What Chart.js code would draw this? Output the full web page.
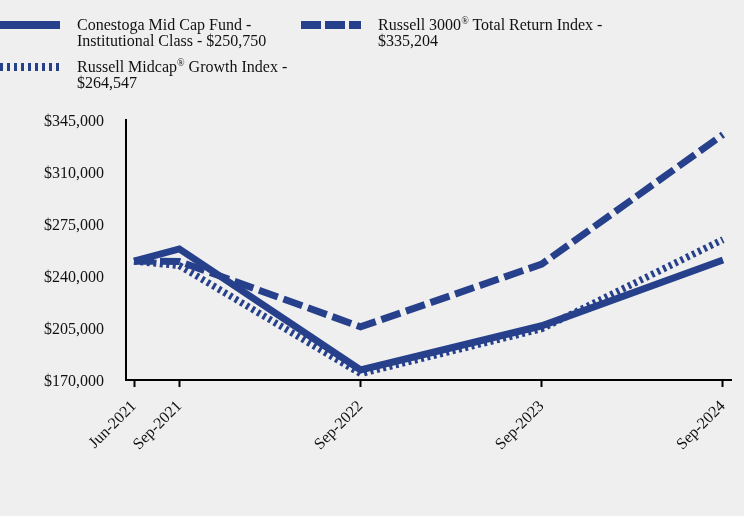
<!DOCTYPE html>
<html>
<head>
<meta charset="utf-8">
<script src="https://cdn.jsdelivr.net/npm/chart.js@4"></script>
<style>
  html, body { margin: 0; padding: 0; background: #efefef; }
  #wrap { position: relative; width: 744px; height: 516px; font-family: "Liberation Serif", "Times New Roman", serif; }
  #legend { position: absolute; left: 0; top: 0; width: 744px; height: 110px; }
  .item { position: absolute; font-size: 16px; line-height: 16px; color: #111; }
  .item svg { position: absolute; left: 0; }
  .item span { position: absolute; white-space: nowrap; }
  sup { font-size: 10px; line-height: 0; }
</style>
</head>
<body>
<div id="wrap">
  <canvas id="myChart" width="744" height="516"></canvas>
  <div id="legend"></div>
</div>
<script>
// months since Jun-2021
const months = [0, 3, 15, 27, 39];
const tickLabels = ["Jun-2021", "Sep-2021", "Sep-2022", "Sep-2023", "Sep-2024"];

const fundValues = [250000, 258200, 176800, 206500, 250750];
const russell3000Values = [250000, 249800, 205800, 248000, 335204];
const midcapGrowthValues = [250000, 247000, 174300, 204500, 264547];

const seriesNames = [
  "Conestoga Mid Cap Fund -<br>Institutional Class - $250,750",
  "Russell 3000<sup>®</sup> Total Return Index -<br>$335,204",
  "Russell Midcap<sup>®</sup> Growth Index -<br>$264,547"
];

const navy = "#26408b";

function toPoints(vals) {
  return vals.map((v, i) => ({ x: months[i], y: v }));
}

// legend (html so the text stays text)
const legendSpots = [
  { left: 0, top: 17, dash: "" },
  { left: 301, top: 17, dash: "20 4" },
  { left: 0, top: 59, dash: "3 4" }
];
const legend = document.getElementById("legend");
legendSpots.forEach((s, i) => {
  const d = document.createElement("div");
  d.className = "item";
  d.style.left = s.left + "px";
  d.style.top = s.top + "px";
  d.innerHTML =
    `<svg width="60" height="8" style="top:4px"><line x1="0" y1="4" x2="60" y2="4" stroke="${navy}" stroke-width="8" ${s.dash ? `stroke-dasharray="${s.dash}"` : ""}/></svg>` +
    `<span style="left:${77}px;top:0px">${seriesNames[i]}</span>`;
  legend.appendChild(d);
});

const ctx = document.getElementById("myChart");
let myChart = new Chart(ctx, {
  type: "line",
  data: {
    datasets: [
      {
        label: "Conestoga Mid Cap Fund - Institutional Class",
        data: toPoints(fundValues),
        borderColor: navy,
        borderWidth: 7,
      },
      {
        label: "Russell 3000 Total Return Index",
        data: toPoints(russell3000Values),
        borderColor: navy,
        borderWidth: 7,
        borderDash: [20, 6],
      },
      {
        label: "Russell Midcap Growth Index",
        data: toPoints(midcapGrowthValues),
        borderColor: navy,
        borderWidth: 7,
        borderDash: [3, 3.5],
      },
    ],
  },
  options: {
    responsive: false,
    animation: false,
    events: [],
    elements: { point: { radius: 0 }, line: { tension: 0, borderCapStyle: "butt" } },
    layout: { padding: { top: 120, right: 13, left: 0, bottom: 0 } },
    plugins: { legend: { display: false }, tooltip: { enabled: false } },
    scales: {
      x: {
        type: "linear",
        min: -0.53,
        max: 39.53,
        afterBuildTicks: (scale) => {
          scale.ticks = months.map((m) => ({ value: m }));
        },
        afterFit: (scale) => {
          scale.height = 136;
          scale.paddingRight = 0;
          scale.paddingLeft = 0;
        },
        grid: { display: true, drawOnChartArea: false, drawTicks: true, tickLength: 7, tickWidth: 2, tickColor: "#000" },
        border: { display: true, color: "#000", width: 2 },
        ticks: {
          autoSkip: false,
          maxRotation: 45,
          minRotation: 45,
          padding: 10,
          color: "#111",
          font: { family: "Liberation Serif", size: 16 },
          callback: (v) => tickLabels[months.indexOf(v)],
        },
      },
      y: {
        min: 170000,
        max: 345000,
        afterFit: (scale) => {
          scale.width = 126;
          scale.paddingTop = 0;
          scale.paddingBottom = 0;
        },
        grid: { display: false, drawTicks: false },
        border: { display: true, color: "#000", width: 2 },
        ticks: {
          stepSize: 35000,
          padding: 22,
          labelOffset: 2,
          color: "#111",
          font: { family: "Liberation Serif", size: 16 },
          callback: (v) => "$" + v.toLocaleString("en-US"),
        },
      },
    },
  },
});
</script>
</body>
</html>
